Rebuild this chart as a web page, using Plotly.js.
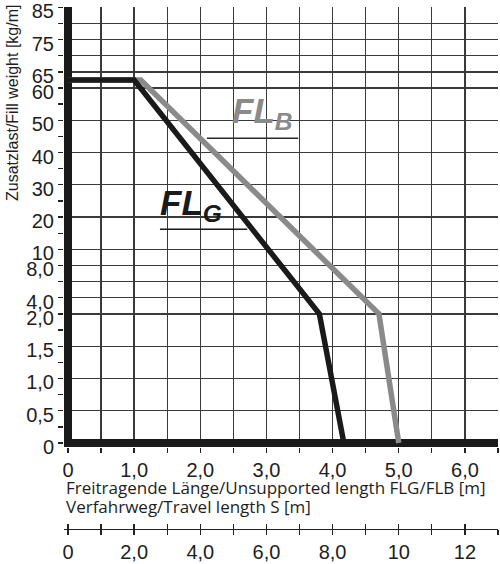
<!DOCTYPE html>
<html>
<head>
<meta charset="utf-8">
<script src="https://cdn.plot.ly/plotly-3.0.1.min.js"></script>
<style>
  html, body { margin: 0; padding: 0; background: #fff; }
  #plot { width: 500px; height: 564px; }
</style>
</head>
<body>
<div id="plot"></div>
<script>
// FLG (black) and FLB (grey): unsupported length [m] -> fill weight [kg/m]
const flgLength = [0, 1.0, 3.8, 4.17];
const flgWeight = [62.5, 62.5, 2.0, 0];
const flbLength = [0, 1.1, 4.7, 5.0];
const flbWeight = [62.5, 62.5, 2.0, 0];

// weight axis ticks + labels
const weightTicks = [0, 0.5, 1, 1.5, 2, 4, 6, 8, 10, 20, 30, 40, 50, 60, 65, 70, 75, 80, 85];
const weightLabels = ['0', '0,5', '1,0', '1,5', '2,0', '4,0', '', '8,0', '10', '20', '30', '40', '50', '60', '65', '', '75', '', '85'];

// unsupported length axis
const lengthTicks = [0, 0.5, 1, 1.5, 2, 2.5, 3, 3.5, 4, 4.5, 5, 5.5, 6, 6.5];
const lengthLabels = ['0', '', '1,0', '', '2,0', '', '3,0', '', '4,0', '', '5,0', '', '6,0', ''];

// travel length S axis
const travelTicks = [0, 1, 2, 3, 4, 5, 6, 7, 8, 9, 10, 11, 12, 13];
const travelLabels = ['0', '', '2,0', '', '4,0', '', '6,0', '', '8,0', '', '10', '', '12', ''];

// the weight scale is stretched piecewise: 0-2, 2-10, 10-85
function weightPos(v) {
    if (v <= 2) return v * 4;
    if (v <= 10) return 8 + (v - 2) / 2;
    return 12 + (v - 10) / 5;
}

const minorPos = [];
for (let i = 0; i <= 27; i++) minorPos.push(i);

const tickFont = {family: 'Liberation Sans, Arial, sans-serif', size: 20, color: '#1e1e1e'};
const gridColor = '#3a3a3a';

let traceFLB = {
    x: flbLength,
    y: flbWeight.map(weightPos),
    mode: 'lines',
    type: 'scatter',
    line: {color: '#8a8a8a', width: 5.5},
    hoverinfo: 'skip'
};

let traceFLG = {
    x: flgLength,
    y: flgWeight.map(weightPos),
    mode: 'lines',
    type: 'scatter',
    line: {color: '#1a1a1a', width: 5.5},
    hoverinfo: 'skip'
};

// placeholders so the travel axes get drawn
let travelA = {x: [travelTicks[0]], y: [0], xaxis: 'x2', yaxis: 'y', mode: 'markers',
    marker: {opacity: 0}, hoverinfo: 'skip'};
let travelB = {x: [travelTicks[0]], y: [0], xaxis: 'x3', yaxis: 'y', mode: 'markers',
    marker: {opacity: 0}, hoverinfo: 'skip'};

let layout = {
    width: 500,
    height: 564,
    margin: {l: 64, r: 2, t: 7, b: 4},
    paper_bgcolor: '#fff',
    plot_bgcolor: '#fff',
    showlegend: false,
    hovermode: false,
    xaxis: {
        range: [-0.06, 6.5],
        tickvals: lengthTicks,
        ticktext: lengthLabels,
        ticks: 'outside', ticklen: 5, tickwidth: 1.3, tickcolor: '#222',
        tickfont: tickFont,
        showgrid: true, gridcolor: gridColor, gridwidth: 1.3,
        zeroline: true, zerolinecolor: '#1a1a1a', zerolinewidth: 8,
        showline: false,
        fixedrange: true
    },
    yaxis: {
        domain: [0.2043, 1],
        range: [-0.25, 27.02],
        tickvals: weightTicks.map(weightPos),
        ticktext: weightLabels,
        ticklabeloverflow: 'allow',
        ticklabelshift: 4,
        ticks: 'outside', ticklen: 5, tickwidth: 1.3, tickcolor: '#222',
        tickfont: tickFont,
        minor: {tickmode: 'array', tickvals: minorPos, ticks: 'outside', ticklen: 5,
            tickwidth: 1.3, tickcolor: '#222', showgrid: false},
        showgrid: true, gridcolor: gridColor, gridwidth: 1.3,
        zeroline: true, zerolinecolor: '#1a1a1a', zerolinewidth: 8,
        showline: false,
        fixedrange: true
    },
    xaxis2: {
        overlaying: 'x', anchor: 'free', position: 0.0561, side: 'bottom',
        range: [-0.12, 13],
        tickvals: travelTicks, ticktext: travelLabels,
        ticks: 'outside', ticklen: 5, tickwidth: 1.3, tickcolor: '#222',
        tickfont: tickFont,
        showline: true, linecolor: '#222', linewidth: 1.5,
        showgrid: false, zeroline: false, fixedrange: true
    },
    xaxis3: {
        overlaying: 'x', anchor: 'free', position: 0.0561, side: 'bottom',
        range: [-0.12, 13],
        tickvals: travelTicks,
        ticks: 'inside', ticklen: 5, tickwidth: 1.3, tickcolor: '#222',
        showticklabels: false,
        showline: false, showgrid: false, zeroline: false, fixedrange: true
    },
    annotations: [
        {
            text: 'Zusatzlast/Fill weight [kg/m]',
            xref: 'paper', yref: 'paper', x: -0.12, y: 0.828,
            xanchor: 'center', yanchor: 'middle', textangle: -90, showarrow: false,
            font: {family: 'Liberation Sans, Arial, sans-serif', size: 16, color: '#1e1e1e'}
        },
        {
            text: 'Freitragende Länge/Unsupported length FLG/FLB [m]',
            xref: 'paper', yref: 'paper', x: 0, y: 0.1302,
            xanchor: 'left', yanchor: 'middle', showarrow: false,
            font: {family: 'Open Sans, sans-serif', size: 17, color: '#1e1e1e'}
        },
        {
            text: 'Verfahrweg/Travel length S [m]',
            xref: 'paper', yref: 'paper', x: 0, y: 0.0976,
            xanchor: 'left', yanchor: 'middle', showarrow: false,
            font: {family: 'Open Sans, sans-serif', size: 17, color: '#1e1e1e'}
        },
        {
            text: '<b><i>FL<sub>B</sub></i></b>',
            xref: 'x', yref: 'y', x: 2.45, y: 20.44,
            xanchor: 'left', yanchor: 'middle', showarrow: false,
            font: {family: 'Liberation Sans, Arial, sans-serif', size: 35, color: '#8a8a8a'}
        },
        {
            text: '<b><i>FL<sub>G</sub></i></b>',
            xref: 'x', yref: 'y', x: 1.36, y: 14.74,
            xanchor: 'left', yanchor: 'middle', showarrow: false,
            font: {family: 'Liberation Sans, Arial, sans-serif', size: 35, color: '#1a1a1a'}
        }
    ],
    shapes: [
        // leader lines under the curve labels
        {type: 'line', xref: 'x', yref: 'y', x0: 2.1, x1: 3.48, y0: weightPos(44.45), y1: weightPos(44.45),
            line: {color: '#2a2a2a', width: 1.5}},
        {type: 'line', xref: 'x', yref: 'y', x0: 1.39, x1: 2.71, y0: weightPos(16.25), y1: weightPos(16.25),
            line: {color: '#1a1a1a', width: 1.5}}
    ]
};

Plotly.newPlot('plot', [traceFLB, traceFLG, travelA, travelB], layout, {staticPlot: true});
</script>
</body>
</html>
